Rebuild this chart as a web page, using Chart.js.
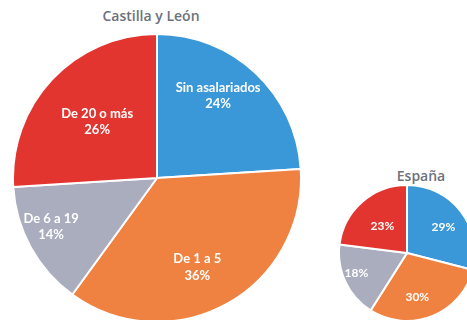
<!DOCTYPE html>
<html>
<head>
<meta charset="utf-8">
<script src="https://cdn.jsdelivr.net/npm/chart.js@4"></script>
<style>
  html, body { margin: 0; padding: 0; background: #fff; width: 467px; height: 320px; overflow: hidden; position: relative; }
  .box { position: absolute; }
  .title { position: absolute; font-family: "Open Sans", sans-serif; font-weight: 600; color: #6c717c; white-space: nowrap; transform: translateX(-50%); }
</style>
</head>
<body>
<div class="title" style="left:151px; top:6px; font-size:14px;">Castilla y León</div>
<div class="title" style="left:421px; top:166px; font-size:14px;">España</div>
<div class="box" style="left:12px; top:33px; width:290px; height:290px;"><canvas id="cyl"></canvas></div>
<div class="box" style="left:338px; top:184px; width:138px; height:138px;"><canvas id="esp"></canvas></div>
<script>
// Company size groups by number of employees
const categories = ["Sin asalariados", "De 1 a 5", "De 6 a 19", "De 20 o más"];
// Share of companies (%)
const castillaLeon = [24, 36, 14, 26];
const espana = [29, 30, 18, 23];
const colors = ["#3a97d8", "#ef8240", "#a9adbd", "#e2352f"];

// Draws the label text inside each slice
const sliceLabels = {
  id: "sliceLabels",
  afterDatasetsDraw(chart, args, opts) {
    const ctx = chart.ctx;
    const meta = chart.getDatasetMeta(0);
    const data = chart.data.datasets[0].data;
    ctx.save();
    ctx.fillStyle = "#fff";
    ctx.textAlign = "center";
    ctx.textBaseline = "middle";
    ctx.font = "bold " + opts.size + "px Lato, 'Open Sans', sans-serif";
    meta.data.forEach((arc, i) => {
      const p = arc.getProps(["x", "y", "startAngle", "endAngle", "outerRadius"], true);
      const mid = (p.startAngle + p.endAngle) / 2 + opts.turn[i] * Math.PI / 180;
      const r = p.outerRadius * opts.dist[i];
      const x = p.x + Math.cos(mid) * r;
      const y = p.y + Math.sin(mid) * r;
      const lines = opts.showName ? [chart.data.labels[i], data[i] + "%"] : [data[i] + "%"];
      const lh = opts.size * 1.25;
      lines.forEach((t, k) => {
        ctx.fillText(t, x, y + (k - (lines.length - 1) / 2) * lh);
      });
    });
    ctx.restore();
  }
};

function pie(id, values, labelOpts) {
  return new Chart(document.getElementById(id), {
    type: "pie",
    data: {
      labels: categories,
      datasets: [{ data: values, backgroundColor: colors, borderColor: "#fff", borderWidth: 2 }]
    },
    options: {
      responsive: true,
      maintainAspectRatio: false,
      animation: false,
      layout: { padding: 0 },
      plugins: { legend: { display: false }, tooltip: { enabled: false }, sliceLabels: labelOpts }
    },
    plugins: [sliceLabels]
  });
}

pie("cyl", castillaLeon, { size: 13, showName: true, dist: [0.71, 0.68, 0.81, 0.57], turn: [-6.5, 4.5, 4, 0] });
pie("esp", espana, { size: 12, showName: false, dist: [0.66, 0.67, 0.8, 0.53], turn: [2, 8.5, 3.5, -1.5] });
</script>
</body>
</html>
